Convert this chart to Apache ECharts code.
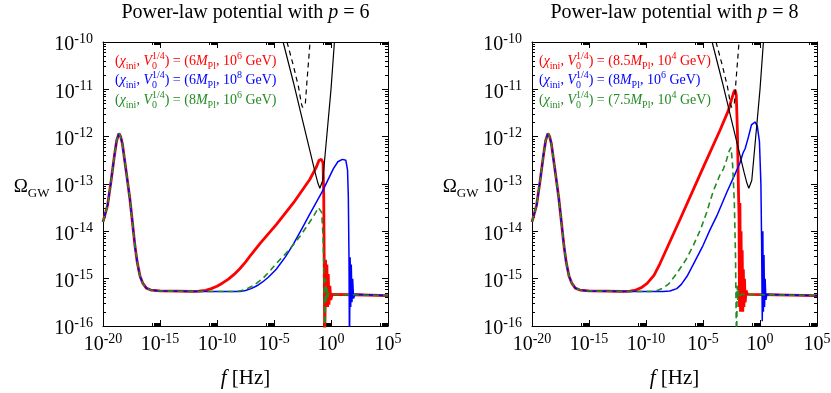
<!DOCTYPE html>
<html>
<head>
<meta charset="utf-8">
<script src="https://cdn.jsdelivr.net/npm/echarts@6/dist/echarts.min.js"></script>
<style>
html, body { margin: 0; padding: 0; background: #fff; }
#chart { width: 831px; height: 393px; }
</style>
</head>
<body>
<div id="chart"></div>
<script>
// all points are [log10 f/Hz, log10 Omega_GW]

// low-frequency peak and flat plateau, shared by every curve
const lowPart = [
	[-20, -13.8], [-19.6, -13.45], [-19.3, -12.95], [-19.0, -12.4], [-18.8, -12.08],
	[-18.6, -11.93], [-18.45, -12.0], [-18.3, -12.15], [-18.1, -12.5], [-17.9, -12.85],
	[-17.65, -13.3], [-17.4, -13.85], [-17.2, -14.3], [-17.0, -14.65], [-16.75, -14.95],
	[-16.5, -15.1], [-16.2, -15.2], [-15.8, -15.24], [-15.0, -15.26], [-12.0, -15.27],
];

// p = 6
const p6Red = [
	[-11.6, -15.265], [-11.0, -15.245], [-10.5, -15.21], [-10.0, -15.16], [-9.5, -15.09],
	[-9.0, -15.01], [-8.5, -14.91], [-8.0, -14.79], [-7.5, -14.65], [-7.0, -14.49],
	[-6.2, -14.25], [-4.8, -13.86], [-3.3, -13.4], [-1.85, -12.9], [-1.3, -12.65],
	[-1.05, -12.5], [-0.85, -12.48], [-0.7, -12.55], [-0.64, -13.2], [-0.6, -14.5],
	[-0.55, -16.5], [-0.48, -14.6], [-0.42, -15.6], [-0.36, -14.7], [-0.3, -15.6],
	[-0.24, -14.9], [-0.18, -15.55], [-0.1, -15.15], [-0.02, -15.45], [0.1, -15.33],
	[2, -15.34], [5, -15.36],
];
const p6Blue = [
	[-8.0, -15.27], [-7.5, -15.25], [-7.0, -15.21], [-6.5, -15.15], [-6.0, -15.07],
	[-5.5, -14.97], [-4.8, -14.8], [-4.0, -14.54], [-3.3, -14.27], [-2.5, -13.92],
	[-1.85, -13.63], [-0.7, -13.13], [0.2, -12.68], [0.6, -12.53], [1.0, -12.48],
	[1.3, -12.5], [1.45, -12.7], [1.52, -13.27], [1.58, -14.6], [1.62, -16.5],
	[1.68, -14.55], [1.73, -15.6], [1.78, -14.7], [1.84, -15.5], [1.9, -15.0],
	[1.98, -15.42], [2.1, -15.33], [5, -15.36],
];
const p6Green = [
	[-8.6, -15.27], [-8.0, -15.26], [-7.4, -15.22], [-6.7, -15.13], [-6.0, -15.0],
	[-5.4, -14.85], [-4.8, -14.68], [-3.7, -14.4], [-2.7, -14.1], [-1.55, -13.69],
	[-1.1, -13.5], [-0.96, -13.47], [-0.82, -13.6], [-0.7, -14.1], [-0.6, -15.0],
	[-0.53, -16.5], [-0.47, -15.0], [-0.42, -15.5], [-0.36, -15.2], [-0.3, -15.4],
	[-0.2, -15.3], [0.1, -15.33], [5, -15.36],
];

// p = 8
const p8Red = [
	[-11.4, -15.265], [-10.9, -15.24], [-10.4, -15.19], [-9.9, -15.1], [-9.3, -14.93],
	[-8.77, -14.68], [-7.0, -13.74], [-5.0, -12.66], [-3.5, -11.86], [-2.78, -11.45],
	[-2.48, -11.2], [-2.3, -11.06], [-2.19, -11.01], [-2.08, -11.12], [-1.98, -11.9],
	[-1.9, -13.0], [-1.84, -13.7], [-1.8, -15.6], [-1.76, -13.4], [-1.71, -15.7],
	[-1.66, -14.0], [-1.61, -15.6], [-1.56, -14.4], [-1.51, -15.7], [-1.46, -14.8],
	[-1.41, -15.6], [-1.36, -15.0], [-1.3, -15.5], [-1.22, -15.25], [-1.1, -15.33],
	[5, -15.36],
];
const p8Blue = [
	[-8.5, -15.27], [-7.9, -15.26], [-7.3, -15.21], [-6.9, -15.12], [-6.4, -14.95],
	[-5.85, -14.7], [-5.0, -14.3], [-4.39, -13.97], [-3.8, -13.68], [-2.9, -13.17],
	[-2.3, -12.85], [-1.75, -12.55], [-1.5, -12.35], [-1.3, -12.25], [-1.03, -12.02],
	[-0.75, -11.75], [-0.44, -11.69], [-0.24, -11.77], [-0.05, -12.1], [0.08, -13.0],
	[0.14, -14.2], [0.2, -15.9], [0.25, -14.0], [0.3, -15.7], [0.35, -14.5],
	[0.4, -15.6], [0.45, -15.0], [0.52, -15.45], [0.6, -15.33], [5, -15.36],
];
const p8Green = [
	[-9.6, -15.27], [-9.0, -15.25], [-8.5, -15.2], [-8.0, -15.11], [-7.3, -14.89],
	[-6.5, -14.6], [-5.85, -14.3], [-5.2, -13.95], [-4.68, -13.6], [-4.1, -13.15],
	[-3.5, -12.8], [-3.2, -12.68], [-2.92, -12.48], [-2.7, -12.3], [-2.54, -12.23],
	[-2.4, -12.6], [-2.25, -13.4], [-2.15, -14.5], [-2.06, -16.5], [-2.0, -15.15],
	[-1.95, -15.45], [-1.88, -15.25], [-1.8, -15.36], [-1.6, -15.33], [5, -15.36],
];

// detector sensitivity curves (same in both panels)
const sensSolid = [
	[-4.2, -10], [-3.3, -10.85], [-2.5, -11.65], [-1.8, -12.35], [-1.4, -12.75],
	[-1.15, -12.98], [-0.98, -13.09], [-0.9, -13.12], [-0.82, -13.09], [-0.72, -12.92],
	[-0.6, -12.6], [-0.3, -11.8], [0.0, -11.0], [0.3, -10],
];
const sensDashed = [
	[-3.86, -10], [-3.3, -10.5], [-2.85, -10.95], [-2.6, -11.3], [-2.5, -11.38],
	[-2.35, -11.38], [-2.25, -11.3], [-2.1, -10.8], [-1.95, -10.35], [-1.84, -10],
];

// legend entries: [chi_ini, exponent of V0^(1/4)]
const p6Labels = [['6', '6'], ['6', '8'], ['8', '6']];
const p8Labels = [['8.5', '4'], ['8', '6'], ['7.5', '4']];
const colors = ['#ff0000', '#0000ff', '#228b22'];

// tick positions (log10)
const xMajor = [-20, -15, -10, -5, 0, 5];
const yMajor = [-16, -15, -14, -13, -12, -11, -10];
const xMinor = [];
xMajor.slice(1).forEach((m) => {
	for (let k = 2; k <= 9; k++) xMinor.push(m - 1 + Math.log10(k));
});
const yMinor = [];
yMajor.slice(0, -1).forEach((n) => {
	for (let k = 2; k <= 9; k++) yMinor.push(n + Math.log10(k));
});

const serif = '"Liberation Serif", "Times New Roman", serif';

const tickRich = {
	b: { fontFamily: serif, fontSize: 20, lineHeight: 26, color: '#000' },
	t: { fontFamily: serif, fontSize: 14, lineHeight: 14, verticalAlign: 'top', color: '#000' },
};
const expLabel = (v) => '{b|10}{t|' + v + '}';
const black = { color: '#000', width: 1 };

const makeXAxes = (g) => {
	const base = { gridIndex: g, type: 'value', min: -20, max: 5, interval: 5, splitLine: { show: false } };
	return [
		{
			...base,
			position: 'bottom',
			axisLine: { onZero: false, lineStyle: black },
			axisTick: { inside: true, length: 6, lineStyle: black },
			axisLabel: { formatter: expLabel, rich: tickRich, margin: 6 },
			name: '{i|f} [Hz]',
			nameLocation: 'middle',
			nameGap: 42,
			nameTextStyle: {
				fontFamily: serif, fontSize: 21, color: '#000',
				rich: { i: { fontFamily: serif, fontSize: 21, fontStyle: 'italic', color: '#000' } },
			},
		},
		{
			...base,
			position: 'bottom',
			axisLine: { show: false, onZero: false },
			axisTick: { inside: true, length: 3, lineStyle: black, customValues: xMinor },
			axisLabel: { show: false },
		},
		{
			...base,
			position: 'top',
			axisLine: { onZero: false, lineStyle: black },
			axisTick: { inside: true, length: 6, lineStyle: black },
			axisLabel: { show: false },
		},
		{
			...base,
			position: 'top',
			axisLine: { show: false, onZero: false },
			axisTick: { inside: true, length: 3, lineStyle: black, customValues: xMinor },
			axisLabel: { show: false },
		},
	];
};

const makeYAxes = (g) => {
	const base = { gridIndex: g, type: 'value', min: -16, max: -10, interval: 1, splitLine: { show: false } };
	return [
		{
			...base,
			position: 'left',
			axisLine: { onZero: false, lineStyle: black },
			axisTick: { inside: true, length: 6, lineStyle: black },
			axisLabel: { formatter: expLabel, rich: tickRich, margin: 10, padding: [6, 0, 0, 0] },
			name: '{o|Ω}{s|GW}',
			nameLocation: 'middle',
			nameRotate: 0,
			nameGap: 53,
			nameTextStyle: {
				padding: [6, 0, 0, 0],
				rich: {
					o: { fontFamily: serif, fontSize: 19, lineHeight: 26, color: '#000' },
					s: { fontFamily: serif, fontSize: 13, lineHeight: 12, verticalAlign: 'bottom', color: '#000' },
				},
			},
		},
		{
			...base,
			position: 'left',
			axisLine: { show: false, onZero: false },
			axisTick: { inside: true, length: 3, lineStyle: black, customValues: yMinor },
			axisLabel: { show: false },
		},
		{
			...base,
			position: 'right',
			axisLine: { onZero: false, lineStyle: black },
			axisTick: { inside: true, length: 6, lineStyle: black },
			axisLabel: { show: false },
		},
		{
			...base,
			position: 'right',
			axisLine: { show: false, onZero: false },
			axisTick: { inside: true, length: 3, lineStyle: black, customValues: yMinor },
			axisLabel: { show: false },
		},
	];
};

const curve = (data, g, color, width, type, z) => ({
	type: 'line',
	xAxisIndex: g * 4,
	yAxisIndex: g * 4,
	data: data,
	symbol: 'none',
	silent: true,
	z: z,
	lineStyle: { color: color, width: width, type: type },
});

const legendRich = (color) => ({
	n: { fontFamily: serif, fontSize: 14, lineHeight: 20, color: color },
	i: { fontFamily: serif, fontSize: 14, lineHeight: 20, fontStyle: 'italic', color: color },
	sb: { fontFamily: serif, fontSize: 10, lineHeight: 12, verticalAlign: 'bottom', color: color },
	sz: { fontFamily: serif, fontSize: 10, lineHeight: 12, verticalAlign: 'bottom', width: 0, color: color },
	sp: { fontFamily: serif, fontSize: 10, lineHeight: 12, verticalAlign: 'top', color: color },
});
const legendText = (chi, e) =>
	'{n|(}{i|χ}{sb|ini}{n|, }{i|V}{sz|0}{sp|1/4}{n|) = (' + chi + '}{i|M}{sb|Pl}{n|, 10}{sp|' + e + '}{n| GeV)}';

const legendGraphics = (labels, x0) =>
	labels.map((l, i) => ({
		type: 'text',
		x: x0,
		y: 61 + i * 19.5,
		style: {
			text: legendText(l[0], l[1]),
			rich: legendRich(colors[i]),
			fill: colors[i],
			align: 'left',
			verticalAlign: 'middle',
			textAlign: 'left',
			textVerticalAlign: 'middle',
		},
	}));

const titleGraphic = (p, cx) => ({
	type: 'text',
	x: cx,
	y: 13,
	style: {
		text: '{n|Power-law potential with }{i|p}{n| = ' + p + '}',
		rich: {
			n: { fontFamily: serif, fontSize: 20, lineHeight: 24, color: '#000' },
			i: { fontFamily: serif, fontSize: 20, lineHeight: 24, fontStyle: 'italic', color: '#000' },
		},
		fill: '#000',
		align: 'center',
		verticalAlign: 'middle',
		textAlign: 'center',
		textVerticalAlign: 'middle',
	},
});

const panels = [
	{ curves: [p6Red, p6Blue, p6Green] },
	{ curves: [p8Red, p8Blue, p8Green] },
];

const series = [];
panels.forEach((p, g) => {
	series.push(curve(lowPart.concat(p.curves[0]), g, colors[0], 2.8, 'solid', 2));
	series.push(curve(lowPart.concat(p.curves[1]), g, colors[1], 1.5, 'solid', 3));
	series.push(curve(lowPart.concat(p.curves[2]), g, colors[2], 1.6, [6, 4], 4));
	series.push(curve(sensSolid, g, '#000', 1.2, 'solid', 5));
	series.push(curve(sensDashed, g, '#000', 1.2, [5, 4], 5));
});

const option = {
	animation: false,
	backgroundColor: '#fff',
	grid: [
		{ left: 103, top: 42, width: 285, height: 284, containLabel: false, outerBoundsMode: 'none' },
		{ left: 532, top: 42, width: 285, height: 284, containLabel: false, outerBoundsMode: 'none' },
	],
	xAxis: makeXAxes(0).concat(makeXAxes(1)),
	yAxis: makeYAxes(0).concat(makeYAxes(1)),
	series: series,
	graphic: [
		titleGraphic('6', 245.5),
		titleGraphic('8', 674.5),
		...legendGraphics(p6Labels, 115),
		...legendGraphics(p8Labels, 539),
	],
};

const myChart = echarts.init(document.getElementById('chart'), null, { renderer: 'canvas' });
myChart.setOption(option);
</script>
</body>
</html>
